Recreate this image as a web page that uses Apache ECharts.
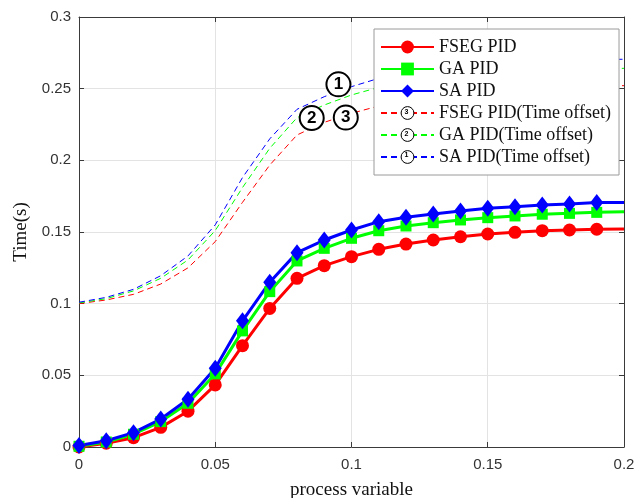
<!DOCTYPE html>
<html><head><meta charset="utf-8">
<script src="https://cdn.jsdelivr.net/npm/echarts@6/dist/echarts.min.js"></script>
<style>html,body{margin:0;padding:0;background:#fff}#c{width:637px;height:498px}</style>
</head><body><div id="c"></div>
<script>
const xs = [0,0.01,0.02,0.03,0.04,0.05,0.06,0.07,0.08,0.09,0.10,0.11,0.12,0.13,0.14,0.15,0.16,0.17,0.18,0.19,0.20];
const fsegPID = [0,0.0026,0.0065,0.0137,0.025,0.0433,0.0707,0.0967,0.1177,0.1265,0.1328,0.1379,0.1416,0.1444,0.1467,0.1486,0.1498,0.1509,0.1514,0.1519,0.1521];
const gaPID = [0.0005,0.0035,0.0089,0.0177,0.0305,0.051,0.081,0.1084,0.1298,0.1386,0.1456,0.1509,0.1542,0.1565,0.1584,0.16,0.1612,0.1624,0.163,0.1637,0.1642];
const saPID = [0.001,0.0044,0.010,0.0195,0.0333,0.055,0.088,0.115,0.1356,0.1444,0.1514,0.1572,0.1603,0.1626,0.1647,0.1665,0.1677,0.1688,0.1695,0.1705,0.1705];
const fsegOffset = [0.1,0.1026,0.1065,0.1137,0.125,0.1433,0.1707,0.1967,0.2177,0.2265,0.2328,0.2379,0.2416,0.2444,0.2467,0.2486,0.2498,0.2509,0.2514,0.2519,0.2521];
const gaOffset = [0.1005,0.1035,0.1089,0.1177,0.1305,0.151,0.181,0.2084,0.2298,0.2386,0.2456,0.2509,0.2542,0.2565,0.2584,0.26,0.2612,0.2624,0.263,0.2637,0.2642];
const saOffset = [0.101,0.1044,0.11,0.1195,0.1333,0.155,0.188,0.215,0.2356,0.2444,0.2514,0.2572,0.2603,0.2626,0.2647,0.2665,0.2677,0.2688,0.2695,0.2705,0.2705];
const xTicks = [0,0.05,0.1,0.15,0.2];
const yTicks = [0,0.05,0.1,0.15,0.2,0.25,0.3];
const names = ['FSEG PID','GA PID','SA PID','FSEG PID(Time offset)','GA PID(Time offset)','SA PID(Time offset)'];
const labels = [{n:'1',x:0.0952,y:0.253},{n:'2',x:0.0854,y:0.2295},{n:'3',x:0.0979,y:0.2298}];
const legendDigits = ['3','2','1'];

const SANS = '"Liberation Sans", Arial, sans-serif';
const SERIF = '"Liberation Serif", "Times New Roman", serif';
const lastIdx = xs.length - 1;
function solidData(arr){
  return xs.map((x,i)=> i===lastIdx ? {value:[x,arr[i]], symbol:'none'} : [x,arr[i]]);
}
function dashData(arr){ return xs.map((x,i)=>[x,arr[i]]); }

const axisCol = '#3a3a3a';
function xAx(pos, showLabels){
  return {type:'value', position:pos, min:0, max:0.2, interval:0.05,
    axisLine:{show:true, onZero:false, lineStyle:{color:axisCol,width:1}},
    axisTick:{show:true, inside:true, length:5, lineStyle:{color:axisCol}},
    axisLabel:{show:showLabels, fontFamily:SANS, fontSize:15, color:'#333', margin:10,
      formatter:v=>xTicks.indexOf(+v.toFixed(2))>=0 ? String(+v.toFixed(2)) : ''},
    splitLine:{show:showLabels, lineStyle:{color:'#e3e3e3',width:1}},
    name: showLabels ? 'process variable' : '', nameLocation:'middle', nameGap:34,
    nameTextStyle:{fontFamily:SERIF, fontSize:19, color:'#111'}};
}
function yAx(pos, showLabels){
  return {type:'value', position:pos, min:0, max:0.3, interval:0.05,
    axisLine:{show:true, onZero:false, lineStyle:{color:axisCol,width:1}},
    axisTick:{show:true, inside:true, length:5, lineStyle:{color:axisCol}},
    axisLabel:{show:showLabels, fontFamily:SANS, fontSize:15, color:'#333', margin:8,
      formatter:v=>yTicks.indexOf(+v.toFixed(2))>=0 ? String(+v.toFixed(2)) : ''},
    splitLine:{show:showLabels, lineStyle:{color:'#e3e3e3',width:1}},
    name: showLabels ? 'Time(s)' : '', nameLocation:'middle', nameGap:48, nameRotate:90,
    nameTextStyle:{fontFamily:SERIF, fontSize:19, color:'#111'}};
}

const solidSpec = [
  {name:names[0], data:fsegPID, color:'#ff0000', symbol:'circle', size:13},
  {name:names[1], data:gaPID, color:'#00ff00', symbol:'rect', size:11},
  {name:names[2], data:saPID, color:'#0000ff', symbol:'diamond', size:[13,17]}
];
const dashSpec = [
  {name:names[3], data:fsegOffset, color:'#ff0000'},
  {name:names[4], data:gaOffset, color:'#00ff00'},
  {name:names[5], data:saOffset, color:'#0000ff'}
];

const series = [];
dashSpec.forEach((s,k)=>{
  const ser = {name:s.name, type:'line', data:dashData(s.data), symbol:'none',
    showSymbol:false, z:2, animation:false,
    itemStyle:{color:s.color},
    lineStyle:{color:s.color, width:1, type:[6,4]}};
  if(k===0){
    ser.markPoint = {symbol:'circle', symbolSize:24, animation:false,
      itemStyle:{color:'#fff', borderColor:'#000', borderWidth:2},
      label:{show:true, position:'inside', color:'#000', fontFamily:SANS, fontWeight:'bold', fontSize:17},
      data: labels.map(l=>({coord:[l.x,l.y], value:l.n, label:{formatter:l.n}}))};
  }
  series.push(ser);
});
solidSpec.forEach(s=>{
  series.push({name:s.name, type:'line', data:solidData(s.data), symbol:s.symbol, symbolSize:s.size,
    showSymbol:true, z:3, animation:false,
    itemStyle:{color:s.color}, lineStyle:{color:s.color, width:3}});
});
series.sort((a,b)=>names.indexOf(a.name)-names.indexOf(b.name));

const legendData = names.map((n,i)=> i<3 ? n : {name:n, itemStyle:{color:'#fff', borderColor:'#000', borderWidth:1}});

// small circled digits drawn over the dashed legend icons
const legendLeft = 374, legendTop = 29, padTop = 9, rowH = 21.6, iconCx = 406.5;
const graphic = legendDigits.map((d,k)=>({
  type:'text', zlevel:1, z:100, x:iconCx, y:legendTop+padTop+rowH*(3+k)+rowH/2-1.5,
  style:{text:d, fill:'#000', font:'bold 7px '+SANS, align:'center', verticalAlign:'middle'}
}));

const chart = echarts.init(document.getElementById('c'), null, {renderer:'canvas'});
chart.setOption({
  backgroundColor:'#fff',
  animation:false,
  grid:{left:79, right:13, top:17, bottom:51, containLabel:false, outerBoundsMode:'none'},
  xAxis:[xAx('bottom',true), xAx('top',false)],
  yAxis:[yAx('left',true), yAx('right',false)],
  legend:{orient:'vertical', left:legendLeft, top:legendTop, data:legendData,
    backgroundColor:'#fff', borderColor:'#9a9a9a', borderWidth:1, padding:[padTop,8,9,6],
    itemWidth:53, itemHeight:16, itemGap:4,
    textStyle:{fontFamily:SERIF, fontSize:18, color:'#111'}},
  graphic: graphic,
  series: series
});
</script></body></html>
